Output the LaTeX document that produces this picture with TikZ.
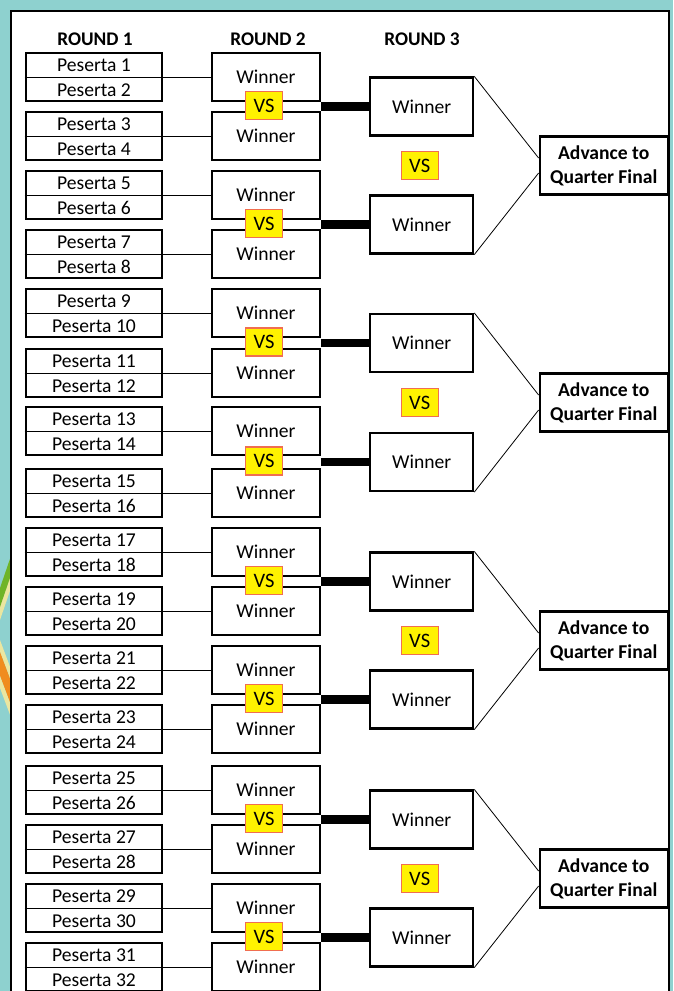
\documentclass[tikz,border=0pt]{standalone}
\usepackage{fontspec}
\setmainfont{Carlito}
\usetikzlibrary{calc}
\definecolor{bgteal}{RGB}{142,209,207}
\definecolor{vsborder}{RGB}{240,110,80}
\definecolor{stripegreen}{RGB}{110,180,40}
\definecolor{stripeorange}{RGB}{240,140,30}
\definecolor{stripeyellow}{RGB}{235,230,160}
\begin{document}
\begin{tikzpicture}[x=1pt,y=-1pt,
  pbox/.style={draw, line width=2.6pt, fill=white, minimum width=136pt, minimum height=48pt, inner sep=0pt},
  ptext/.style={inner sep=0pt, font=\fontsize{19.6}{22}\selectfont},
  wbox/.style={draw, line width=2.4pt, fill=white, minimum width=108pt, minimum height=48pt, inner sep=0pt, font=\fontsize{19.6}{22}\selectfont},
  rbox/.style={draw, line width=2.2pt, fill=white, minimum width=103pt, minimum height=58pt, inner sep=0pt, font=\fontsize{19.6}{22}\selectfont},
  advbox/.style={draw, line width=2.2pt, fill=white, minimum width=128pt, minimum height=58pt, inner sep=0pt, align=center, font=\fontsize{19.6}{24}\selectfont\bfseries},
  vsbox/.style={draw=vsborder, line width=1.2pt, fill=yellow, minimum width=37pt, minimum height=28pt, inner sep=0pt, font=\fontsize{20.5}{22}\selectfont},
  hdr/.style={inner sep=0pt, font=\fontsize{19.3}{22}\selectfont\bfseries},
  link/.style={line width=1pt},
  bar/.style={line width=8.5pt},
  diag/.style={line width=0.8pt}
]
\useasboundingbox (0,0) rectangle (673,991);
\fill[bgteal] (0,0) rectangle (673,991);
% left decoration stripes
\begin{scope}
  \clip (0,0) rectangle (10,991);
  \fill[stripeyellow] (0,620) -- (12,585) -- (12,570) -- (0,605) -- cycle;
  \fill[stripegreen] (0,607) -- (12,572) -- (12,553) -- (0,588) -- cycle;
  \fill[stripeyellow] (0,640) -- (12,672) -- (12,684) -- (0,652) -- cycle;
  \fill[stripeorange] (0,652) -- (12,684) -- (12,708) -- (0,676) -- cycle;
  \fill[stripeyellow] (0,676) -- (12,708) -- (12,720) -- (0,688) -- cycle;
\end{scope}
% panel
\filldraw[fill=white, draw=black, line width=2pt] (11,11) rectangle (669,1000);
% headers
\node[hdr] (h1) at (95,39) {ROUND 1};
\node[hdr] (h2) at (268,39) {ROUND 2};
\node[hdr] (h3) at (422,39) {ROUND 3};
% round 1 and round 2
\foreach \t [count=\i] in {52,111,170,229,288,348,406,468,527,586,645,704,765,824,883,942}{
  \pgfmathtruncatemacro\a{2*\i-1}
  \pgfmathtruncatemacro\b{2*\i}
  \node[pbox] (p\i) at (94,\t+25) {};
  \node[ptext] (pa\i) at (94,\t+13) {Peserta \a};
  \node[ptext] (pb\i) at (94,\t+38) {Peserta \b};
  \node[wbox] (w\i) at (266,\t+25) {Winner};
  \draw[link] (p\i.west) -- (w\i.west);
}
% round 3
\foreach \k in {1,...,8}{
  \pgfmathtruncatemacro\u{2*\k-1}
  \pgfmathtruncatemacro\v{2*\k}
  \coordinate (g\k) at ($(w\u.south east)!0.5!(w\v.north east)$);
  \node[rbox] (r\k) at ($(g\k)+(100.5,0)$) {Winner};
  \draw[bar] (g\k) -- (r\k.west);
  \node[vsbox] (vsa\k) at ($(w\u.south)!0.5!(w\v.north)+(-2,-1)$) {VS};
}
% advance
\foreach \j in {1,...,4}{
  \pgfmathtruncatemacro\m{2*\j-1}
  \pgfmathtruncatemacro\n{2*\j}
  \node[advbox] (a\j) at ($(r\m.center)!0.5!(r\n.center)+(182,0)$) {Advance to\\Quarter Final};
  \node[vsbox] (vsb\j) at ($(r\m.center)!0.5!(r\n.center)+(-2,0)$) {VS};
  \draw[diag] (r\m.north east) -- ([yshift=7.5pt]a\j.west);
  \draw[diag] (r\n.south east) -- ([yshift=-7.5pt]a\j.west);
}
\end{tikzpicture}
\end{document}
